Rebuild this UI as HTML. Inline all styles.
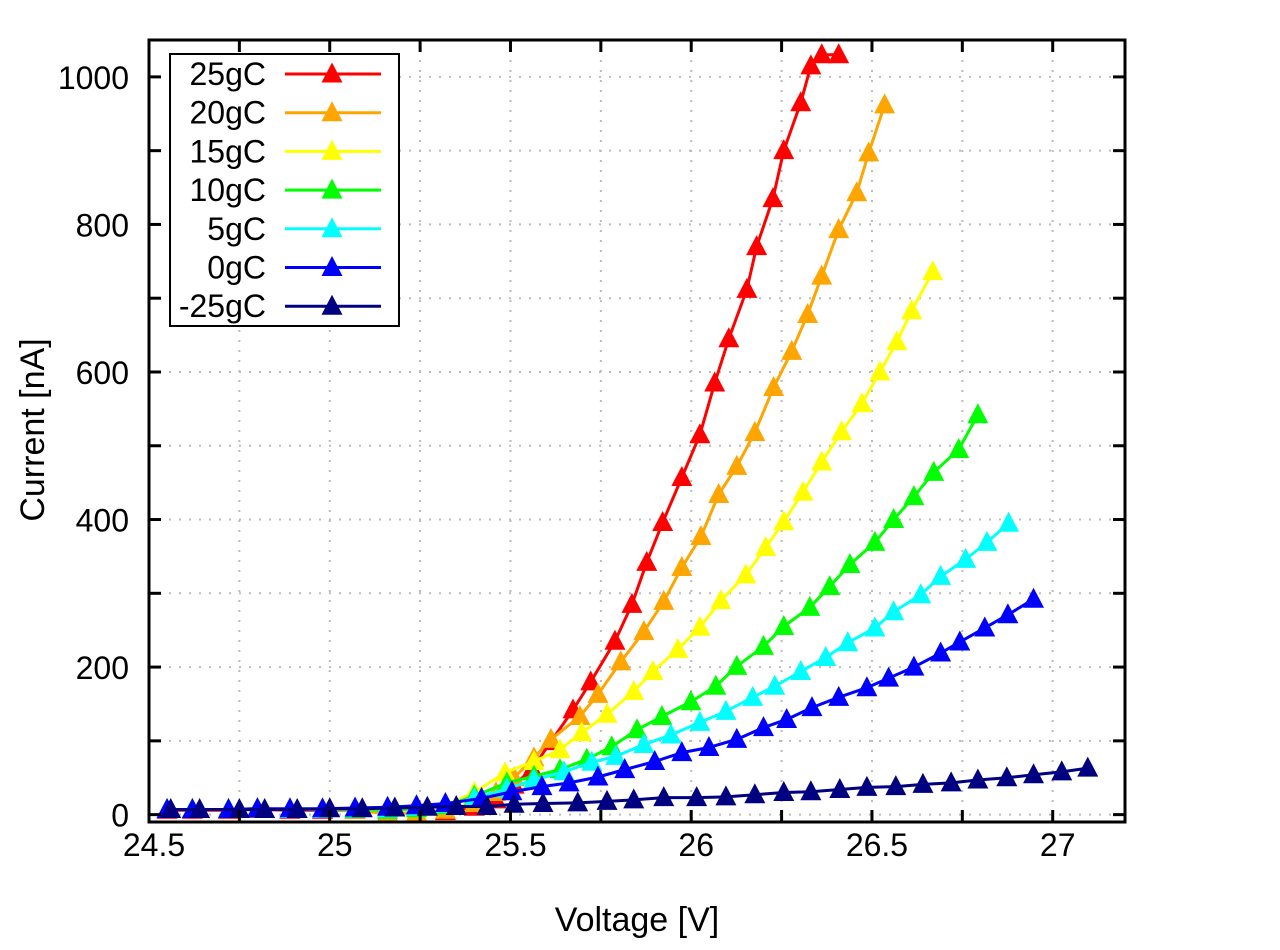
<!DOCTYPE html>
<html><head><meta charset="utf-8"><style>
html,body{margin:0;padding:0;background:#fff;}
svg text{font-family:"Liberation Sans",Arial,sans-serif;fill:#000;}
</style></head><body>
<svg id="chart" width="1280" height="945" viewBox="0 0 1280 945" xmlns="http://www.w3.org/2000/svg">
<rect x="0" y="0" width="1280" height="945" fill="#fff"/>
<g id="grid"></g>
<g id="series"></g>
<g id="axes"></g>
<g id="legend"></g>
</svg>
<script>
const seriesNames = ["25gC","20gC","15gC","10gC","5gC","0gC","-25gC"];
const seriesColors = ["#ff0000","#ffa500","#ffff00","#00ff00","#00ffff","#0000ff","#000080"];
const xTicksLabeled = [24.5,25,25.5,26,26.5,27];
const yTicksLabeled = [0,200,400,600,800,1000];
const lowX = [24.55,24.62,24.72,24.80,24.89,24.98,25.07,25.16,25.24,25.32];
const redX = lowX.concat([25.40,25.46,25.51,25.56,25.612,25.673,25.722,25.789,25.836,25.877,25.921,25.974,26.024,26.065,26.104,26.154,26.181,26.226,26.256,26.303,26.331,26.361,26.408]);
const redY = [6,6,6,7,6,6,6,2,2,4,10,20,40,62,99,142,180,235,285,342,396,457,515,585,645,712,770,835,900,965,1015,1030,1030];
const orangeX = lowX.concat([25.40,25.46,25.51,25.565,25.612,25.692,25.742,25.805,25.869,25.924,25.974,26.027,26.076,26.126,26.176,26.228,26.278,26.322,26.361,26.408,26.458,26.491,26.535]);
const orangeY = [7,7,7,8,7,7,6,1,3,6,15,30,50,77,102,133,163,207,248,289,335,377,434,472,518,579,628,678,730,793,843,897,962];
const yellowX = lowX.concat([25.40,25.485,25.565,25.637,25.697,25.767,25.841,25.894,25.963,26.024,26.082,26.151,26.206,26.256,26.309,26.361,26.416,26.472,26.522,26.569,26.61,26.668]);
const yellowY = [7,7,7,8,7,7,7,6,8,12,30,57,72,88,111,136,167,194,224,254,290,325,362,397,437,478,519,557,600,641,683,736];
const greenX = lowX.concat([25.40,25.49,25.565,25.637,25.711,25.78,25.85,25.919,25.999,26.068,26.126,26.2,26.256,26.328,26.383,26.439,26.508,26.56,26.616,26.671,26.74,26.793]);
const greenY = [7,7,7,8,7,7,7,6,8,12,25,43,52,61,75,92,115,133,153,174,201,228,255,281,309,339,369,400,431,464,495,542];
const cyanX = lowX.concat([25.40,25.49,25.565,25.648,25.725,25.791,25.869,25.944,26.024,26.096,26.17,26.231,26.303,26.372,26.433,26.508,26.56,26.635,26.69,26.759,26.818,26.878]);
const cyanY = [7,7,7,8,7,7,8,8,10,14,22,35,47,58,71,79,95,108,125,140,159,174,194,213,233,253,275,298,323,346,369,395];
const blueX = lowX.concat([25.42,25.504,25.587,25.662,25.742,25.816,25.899,25.974,26.049,26.126,26.2,26.264,26.334,26.408,26.486,26.546,26.616,26.69,26.743,26.812,26.876,26.947]);
const blueY = [7,7,7,8,8,8,9,10,12,15,22,31,38,43,51,61,72,84,91,102,118,129,145,159,172,185,200,219,234,253,271,292];
const navyX = [24.56,24.64,24.75,24.82,24.91,25.0,25.09,25.18,25.27,25.35,25.435,25.51,25.59,25.686,25.767,25.841,25.924,26.015,26.096,26.176,26.256,26.331,26.411,26.486,26.566,26.641,26.719,26.793,26.873,26.947,27.025,27.097];
const navyY = [7,7,7,7,7,8,8,9,10,11,11,14,15,16,18,20,23,23,24,27,30,31,34,37,38,41,43,47,50,54,58,63];
const allX = [redX,orangeX,yellowX,greenX,cyanX,blueX,navyX];
const allY = [redY,orangeY,yellowY,greenY,cyanY,blueY,navyY];

const NS="http://www.w3.org/2000/svg";
const L=149,R=1125,T=40,B=822;
const xMin=24.5,xMax=27.2,yMin=-10,yMax=1050;
function xs(v){return L+(v-xMin)/(xMax-xMin)*(R-L);}
function ys(v){return B-(v-yMin)/(yMax-yMin)*(B-T);}
function mk(tag,attrs,parent){const e=document.createElementNS(NS,tag);for(const k in attrs)e.setAttribute(k,attrs[k]);parent.appendChild(e);return e;}
function tri(cx,cy,color,parent){return mk("polygon",{points:(cx-10.5)+","+(cy+8.5)+" "+(cx+10.5)+","+(cy+8.5)+" "+cx+","+(cy-11.5),fill:color},parent);}

const grid=document.getElementById("grid");
for(let v=24.75;v<27.2;v+=0.25){const x=xs(v);const g=mk("line",{x1:x,y1:T,x2:x,y2:B,stroke:"#bbb","stroke-width":2,"stroke-dasharray":"2,8"},grid);

}
for(let v=0;v<=1000;v+=100){const y=ys(v);const g=mk("line",{x1:L,y1:y,x2:R,y2:y,stroke:"#bbb","stroke-width":2,"stroke-dasharray":"2,8"},grid);

}

const sg=document.getElementById("series");
for(let s=0;s<allX.length;s++){
  const g=mk("g",{},sg);
  
  
  const pts=allX[s].map((x,i)=>xs(x)+","+ys(allY[s][i])).join(" ");
  const pl=mk("polyline",{points:pts,fill:"none",stroke:seriesColors[s],"stroke-width":3,"stroke-linejoin":"round"},g);
  
  
  allX[s].forEach((x,i)=>{const t=tri(xs(x),ys(allY[s][i]),seriesColors[s],g);
    
    });
}

const ax=document.getElementById("axes");
const frame=mk("rect",{x:L,y:T,width:R-L,height:B-T,fill:"none",stroke:"#000","stroke-width":3},ax);


for(let v=24.75;v<27.2;v+=0.25){const x=xs(v);
  const a=mk("line",{x1:x,y1:B,x2:x,y2:B-12,stroke:"#000","stroke-width":3},ax);
  
  
  const b=mk("line",{x1:x,y1:T,x2:x,y2:T+12,stroke:"#000","stroke-width":3},ax);
  
  }
for(let v=0;v<=1000;v+=100){const y=ys(v);
  const a=mk("line",{x1:L,y1:y,x2:L+12,y2:y,stroke:"#000","stroke-width":3},ax);
  
  
  const b=mk("line",{x1:R,y1:y,x2:R-12,y2:y,stroke:"#000","stroke-width":3},ax);
  
  }
xTicksLabeled.forEach(v=>{const t=mk("text",{x:xs(v)+5,y:856,"font-size":32,"text-anchor":"middle"},ax);t.textContent=String(v);
  
  });
yTicksLabeled.forEach(v=>{const t=mk("text",{x:129,y:ys(v)+12,"font-size":32,"text-anchor":"end"},ax);t.textContent=String(v);
  
  });
const xt=mk("text",{x:637,y:931,"font-size":34,"text-anchor":"middle"},ax);xt.textContent="Voltage [V]";


const yt=mk("text",{x:0,y:0,"font-size":34,"text-anchor":"middle",transform:"translate(44,430) rotate(-90)"},ax);yt.textContent="Current [nA]";



const lg=document.getElementById("legend");
const box=mk("rect",{x:170,y:54,width:229,height:272,fill:"#fff",stroke:"#000","stroke-width":2},lg);


seriesNames.forEach((n,i)=>{
  const cy=74+i*38.7;
  const g=mk("g",{},lg);
  
  
  const t=mk("text",{x:266,y:cy+11,"font-size":32,"text-anchor":"end"},g);t.textContent=n;
  const l=mk("line",{x1:285,y1:cy,x2:381,y2:cy,stroke:seriesColors[i],"stroke-width":3},g);
  tri(332,cy,seriesColors[i],g);
});
</script>
</body></html>
